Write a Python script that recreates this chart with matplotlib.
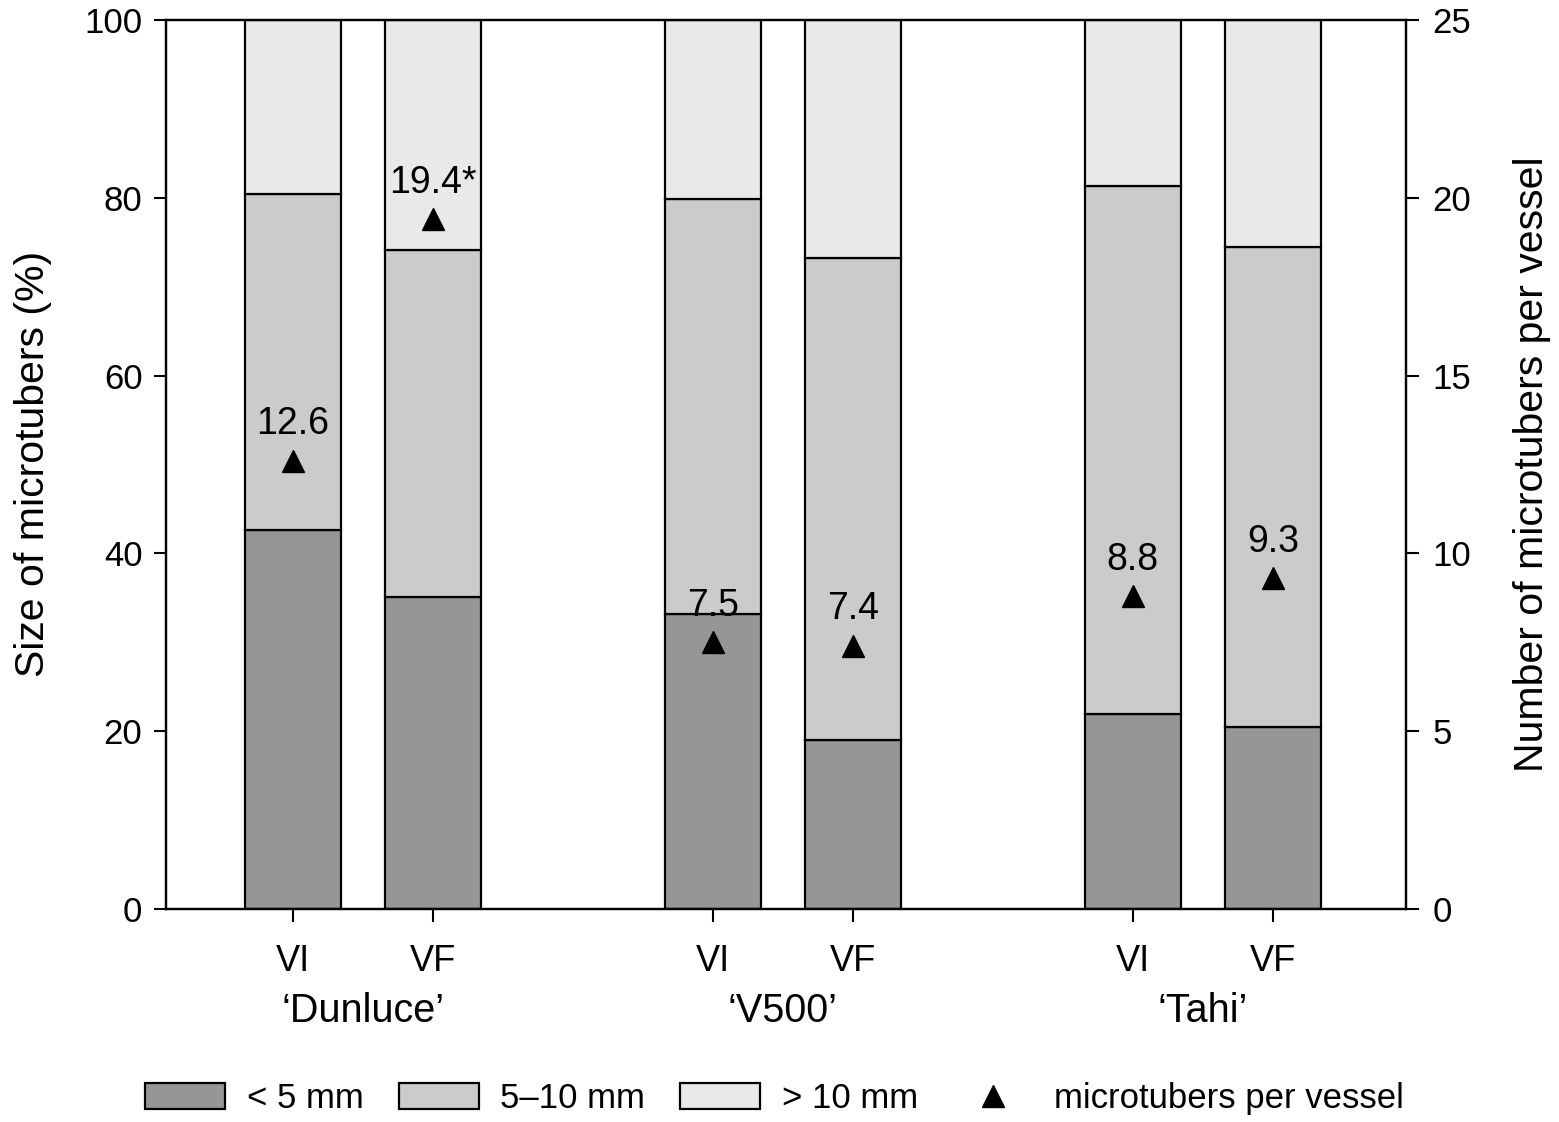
import matplotlib.pyplot as plt
from matplotlib.patches import Patch
from matplotlib.lines import Line2D

plt.rcParams['font.family'] = ['Liberation Sans', 'DejaVu Sans']

# Data
cultivars = ['\u2018Dunluce\u2019', '\u2018V500\u2019', '\u2018Tahi\u2019']
treatments = ['VI', 'VF', 'VI', 'VF', 'VI', 'VF']
small = [42.6, 35.1, 33.2, 19.0, 21.9, 20.5]        # < 5 mm
medium = [37.8, 39.0, 46.7, 54.2, 59.4, 54.0]       # 5-10 mm
large = [19.6, 25.9, 20.1, 26.8, 18.7, 25.5]        # > 10 mm
per_vessel = [12.6, 19.4, 7.5, 7.4, 8.8, 9.3]
per_vessel_labels = ['12.6', '19.4*', '7.5', '7.4', '8.8', '9.3']

x = [0, 1, 3, 4, 6, 7]
group_x = [0.5, 3.5, 6.5]
width = 0.69
c_small, c_med, c_large = '#969696', '#cbcbcb', '#e9e9e9'

fig = plt.figure(figsize=(15.59, 11.22), dpi=100)
ax = fig.add_axes([0.1065, 0.19, 0.7953, 0.7922])
bottom2 = [a + b for a, b in zip(small, medium)]
kw = dict(width=width, edgecolor='black', linewidth=1.6)
ax.bar(x, small, color=c_small, **kw)
ax.bar(x, medium, bottom=small, color=c_med, **kw)
ax.bar(x, large, bottom=bottom2, color=c_large, **kw)

ax.set_xlim(-0.907, 7.95)
ax.set_ylim(0, 100)
ax.set_yticks(range(0, 101, 20))
ax.set_xticks(x)
ax.set_xticklabels(treatments, fontsize=26)
ax.tick_params(axis='y', labelsize=25, length=9, width=1.5, direction='out', pad=8)
ax.tick_params(axis='x', length=9, width=1.5, direction='out', pad=16)
for s in ax.spines.values():
    s.set_linewidth(1.6)
ax.set_ylabel('Size of microtubers (%)', fontsize=29.5, labelpad=23)

for gx, name in zip(group_x, cultivars):
    ax.text(gx, -0.115, name, transform=ax.get_xaxis_transform(),
            ha='center', va='center', fontsize=28.5)

ax2 = ax.twinx()
ax2.set_ylim(0, 25)
ax2.set_yticks(range(0, 26, 5))
ax2.tick_params(axis='y', labelsize=25, length=9, width=1.5, direction='out', pad=10)
ax2.plot(x, per_vessel, linestyle='none', marker='^', color='black', markersize=16)
for xi, v, lab in zip(x, per_vessel, per_vessel_labels):
    ax2.annotate(lab, (xi, v), xytext=(0, 19), textcoords='offset points',
                 ha='center', va='baseline', fontsize=27)
ax2.set_ylabel('Number of microtubers per vessel', fontsize=29.5, labelpad=30)
for s in ax2.spines.values():
    s.set_linewidth(1.6)

handles = [Patch(facecolor=c_small, edgecolor='black', linewidth=1.6, label='< 5 mm'),
           Patch(facecolor=c_med, edgecolor='black', linewidth=1.6, label='5\u201310 mm'),
           Patch(facecolor=c_large, edgecolor='black', linewidth=1.6, label='> 10 mm'),
           Line2D([], [], linestyle='none', marker='^', color='black', markersize=16,
                  label='microtubers per vessel')]
fig.legend(handles=handles, loc='center', bbox_to_anchor=(0.497, 0.021), ncol=4,
           frameon=False, fontsize=25, handlelength=2.3, handleheight=0.75,
           columnspacing=1.0, handletextpad=0.63)

fig.savefig('out.png', dpi=100)
